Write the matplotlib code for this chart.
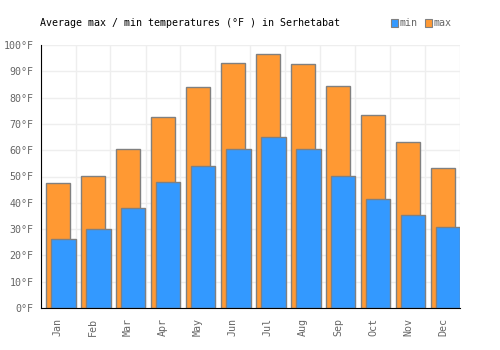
import matplotlib
matplotlib.use("Agg")
import matplotlib.pyplot as plt
import numpy as np
from matplotlib.patches import Rectangle

months = ["Jan", "Feb", "Mar", "Apr", "May", "Jun", "Jul", "Aug", "Sep", "Oct", "Nov", "Dec"]
max_f = [47.4, 50.1, 60.3, 72.5, 83.9, 93.0, 96.5, 92.7, 84.3, 73.3, 63.0, 53.1]
min_f = [26.1, 29.9, 37.9, 47.8, 53.9, 60.3, 64.9, 60.3, 50.1, 41.3, 35.2, 30.7]
yticks = list(range(0, 101, 10))

c_max = "#FF9933"
c_min = "#3399FF"
edge = "#808080"
font = "DejaVu Sans Mono"
fs = 7.2

fig = plt.figure(figsize=(5, 3.5), dpi=100)
ax = fig.add_axes([40.5/500, 42/350, 420/500, 263/350])
x = np.arange(len(months))
ax.bar(x, max_f, width=0.66, color=c_max, edgecolor=edge, linewidth=1, zorder=2)
ax.bar(x + 0.15, min_f, width=0.70, color=c_min, edgecolor=edge, linewidth=1, zorder=3)

ax.set_xlim(-0.5, 11.5)
ax.set_ylim(0, 100)
ax.set_yticks(yticks)
ax.set_yticklabels([f"{v}°F" for v in yticks], fontfamily=font, fontsize=fs, color="#666666")
ax.set_xticks(x)
ax.set_xticklabels(months, rotation=90, fontfamily=font, fontsize=fs, color="#666666")
ax.set_xticks(np.arange(-0.5, 12, 1), minor=True)
ax.tick_params(axis="both", which="both", length=0)
ax.tick_params(axis="y", pad=5)
ax.tick_params(axis="x", pad=7)
ax.grid(True, which="minor", axis="x", color="#eeeeee", linewidth=1, zorder=0)
ax.grid(True, which="major", axis="y", color="#eeeeee", linewidth=1, zorder=0)
ax.grid(False, which="major", axis="x")
for s in ["top", "right"]:
    ax.spines[s].set_visible(False)
ax.spines["left"].set_color("black")
ax.spines["bottom"].set_color("black")
ax.spines["left"].set_zorder(5)
ax.spines["bottom"].set_zorder(5)
ax.set_axisbelow(True)

fig.text(40/500, 1 - 23/350, "Average max / min temperatures (°F ) in Serhetabat",
         fontfamily=font, fontsize=fs, color="black", va="center", ha="left")

for xs, col, lab in [(391, c_min, "min"), (425, c_max, "max")]:
    fig.patches.append(Rectangle((xs/500, 1 - 26.5/350), 7/500, 7/350, transform=fig.transFigure,
                                 facecolor=col, edgecolor=edge, linewidth=0.8))
    fig.text((xs + 9)/500, 1 - 23/350, lab, fontfamily=font, fontsize=fs, color="#666666",
             va="center", ha="left")

fig.savefig("out.png", dpi=100)
